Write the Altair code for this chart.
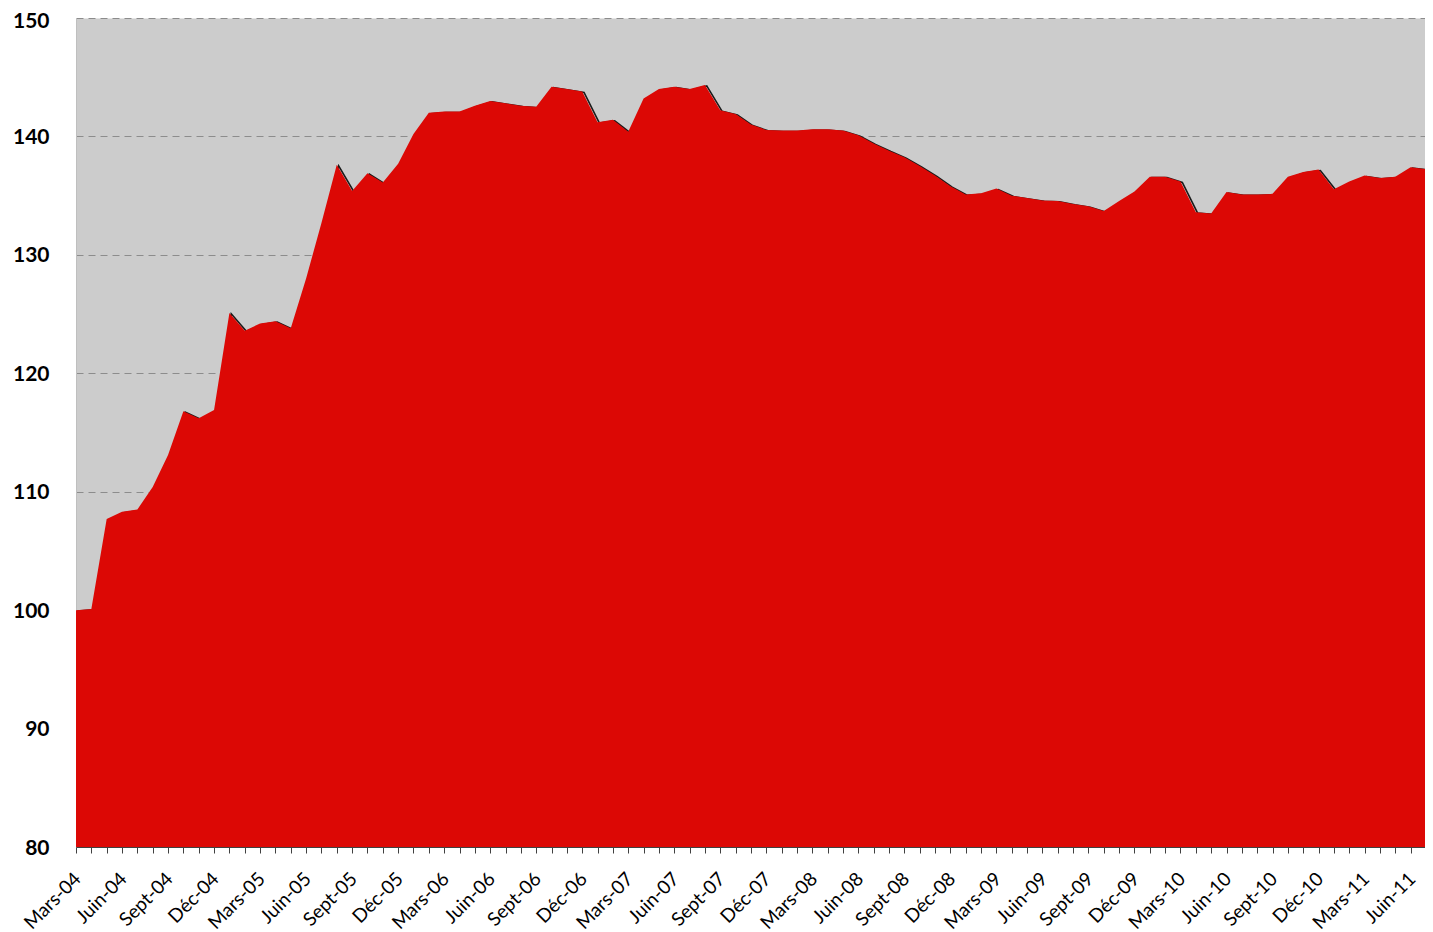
import altair as alt
import pandas as pd

# Tick labels (one every 3 months, starting Mars-04)
tick_labels = [
    "Mars-04", "Juin-04", "Sept-04", "Déc-04",
    "Mars-05", "Juin-05", "Sept-05", "Déc-05",
    "Mars-06", "Juin-06", "Sept-06", "Déc-06",
    "Mars-07", "Juin-07", "Sept-07", "Déc-07",
    "Mars-08", "Juin-08", "Sept-08", "Déc-08",
    "Mars-09", "Juin-09", "Sept-09", "Déc-09",
    "Mars-10", "Juin-10", "Sept-10", "Déc-10",
    "Mars-11", "Juin-11",
]

# Monthly index values, Mars-04 .. Août-11
values = [
    100.0, 100.1, 107.7, 108.3, 108.5, 110.4, 113.1, 116.8, 116.2, 116.9,   # Mars-04 .. Déc-04
    125.1, 123.6, 124.2, 124.4, 123.8, 128.0, 132.7, 137.6, 135.4, 136.9,   # Jan-05 .. Oct-05
    136.1, 137.7, 140.2, 142.0, 142.1, 142.1, 142.6, 143.0, 142.8, 142.6,   # Nov-05 .. Août-06
    142.5, 144.2, 144.0, 143.8, 141.2, 141.4, 140.4, 143.2, 144.0, 144.2,   # Sept-06 .. Juin-07
    144.0, 144.35, 142.2, 141.9, 141.0, 140.55, 140.5, 140.5, 140.6, 140.6, # Juil-07 .. Avr-08
    140.5, 140.1, 139.4, 138.8, 138.25, 137.5, 136.7, 135.8, 135.1, 135.2,  # Mai-08 .. Fév-09
    135.6, 135.0, 134.8, 134.6, 134.55, 134.3, 134.1, 133.7, 134.55, 135.35,# Mars-09 .. Déc-09
    136.6, 136.6, 136.2, 133.6, 133.5, 135.3, 135.1, 135.1, 135.15, 136.6,  # Jan-10 .. Oct-10
    137.0, 137.2, 135.55, 136.2, 136.7, 136.5, 136.6, 137.4, 137.25, 138.35,# Nov-10 .. Août-11
]

y_ticks = [80, 90, 100, 110, 120, 130, 140, 150]

df = pd.DataFrame({"idx": list(range(len(values))), "valeur": values})

label_js = "[" + ",".join("'" + l + "'" for l in tick_labels) + "]"
label_expr = "datum.value % 3 == 0 ? " + label_js + "[datum.value / 3] : ''"

x_scale = alt.Scale(domain=[0, 87.94], nice=False, zero=False)
y_scale = alt.Scale(domain=[80, 150], nice=False, zero=False)

x_axis = alt.Axis(
    values=list(range(88)),
    labelExpr=label_expr,
    labelAngle=315,
    labelAlign="right",
    labelBaseline="top",
    labelFont="Lato",
    labelFontSize=19,
    labelColor="black",
    labelPadding=16,
    labelOffset=-5,
    labelOverlap=False,
    labelBound=False,
    labelFlush=False,
    tickSize=6,
    tickColor="#404040",
    domainColor="#404040",
    grid=False,
    title=None,
    zindex=1,
)

y_axis = alt.Axis(
    values=y_ticks,
    labelFont="Lato",
    labelFontSize=21,
    labelFontWeight="bold",
    labelColor="black",
    labelPadding=27,
    labelBaseline="middle",
    labelOffset=alt.condition("datum.value == 150", alt.value(3), alt.value(1)),
    ticks=False,
    domainColor="#bfbfbf",
    grid=True,
    gridColor="#8c8c8c",
    gridDash=[7, 5],
    gridWidth=1,
    title=None,
)

base = alt.Chart(df)

shadow = base.transform_calculate(
    xs="datum.idx + 0.12", ys="datum.valeur - 0.08"
).mark_line(color="#1a1a1a", strokeWidth=1.6, clip=True).encode(
    x=alt.X("xs:Q", scale=x_scale, axis=x_axis),
    y=alt.Y("ys:Q", scale=y_scale, axis=y_axis),
)

area = base.mark_area(color="#DC0805", clip=True, opacity=1).encode(
    x=alt.X("idx:Q", scale=x_scale, axis=x_axis),
    y=alt.Y("valeur:Q", scale=y_scale, axis=y_axis),
    y2=alt.datum(80),
)

chart = alt.layer(shadow, area).properties(
    width=1349,
    height=829,
    padding={"left": 68, "top": 10, "right": 0, "bottom": 85},
    autosize=alt.AutoSizeParams(type="none"),
).configure_view(fill="#cccccc", strokeOpacity=0)

chart.save("out.html", embed_options={"renderer": "svg", "actions": False})
